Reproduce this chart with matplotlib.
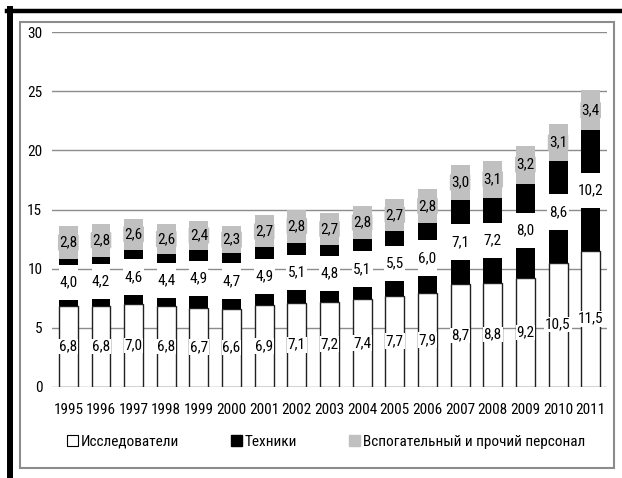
import matplotlib
matplotlib.use("Agg")
import matplotlib.pyplot as plt
from matplotlib.patches import Rectangle, Patch
from matplotlib.lines import Line2D

plt.rcParams['font.family'] = ['Roboto Condensed', 'Fira Sans Condensed', 'DejaVu Sans']
plt.rcParams['font.size'] = 11

years = ['1995', '1996', '1997', '1998', '1999', '2000', '2001', '2002', '2003',
         '2004', '2005', '2006', '2007', '2008', '2009', '2010', '2011']
researchers = [6.8, 6.8, 7.0, 6.8, 6.7, 6.6, 6.9, 7.1, 7.2, 7.4, 7.7, 7.9, 8.7, 8.8, 9.2, 10.5, 11.5]
technicians = [4.0, 4.2, 4.6, 4.4, 4.9, 4.7, 4.9, 5.1, 4.8, 5.1, 5.5, 6.0, 7.1, 7.2, 8.0, 8.6, 10.2]
support = [2.8, 2.8, 2.6, 2.6, 2.4, 2.3, 2.7, 2.8, 2.7, 2.8, 2.7, 2.8, 3.0, 3.1, 3.2, 3.1, 3.4]
names = ['Исследователи', 'Техники', 'Вспогательный и прочий персонал']

grey = '#c0c0c0'
w = 0.58

def fmt(v):
    return f"{v:.1f}".replace('.', ',')

fig = plt.figure(figsize=(6.22, 4.78), dpi=100)
ax = fig.add_axes([0.0836, 0.191, 0.8923, 0.7414])

x = list(range(len(years)))
bottom2 = [a + b for a, b in zip(researchers, technicians)]

ax.bar(x, researchers, w, color='white', edgecolor='#202020', linewidth=1.0, zorder=2)
ax.bar(x, technicians, w, bottom=researchers, color='black', linewidth=0, zorder=2)
ax.bar(x, support, w, bottom=bottom2, color=grey, linewidth=0, zorder=2)

# white label field over the middle of the black segments
mid = [a + b / 2 for a, b in zip(researchers, technicians)]
ax.bar(x, [3.0] * len(x), w, bottom=[m - 1.5 for m in mid], color='white', linewidth=0, zorder=3)

for i in x:
    ax.text(i, researchers[i] / 2, fmt(researchers[i]), ha='center', va='center', zorder=4,
            bbox=dict(boxstyle='square,pad=0.05', fc='white', ec='none'))
    ax.text(i, mid[i], fmt(technicians[i]), ha='center', va='center', zorder=4,
            bbox=dict(boxstyle='square,pad=0.1', fc='white', ec='none'))
    ax.text(i, bottom2[i] + support[i] / 2, fmt(support[i]), ha='center', va='center', zorder=4,
            bbox=dict(boxstyle='round,pad=0.08', fc=grey, ec='none'))

ax.set_xlim(-0.5, 16.5)
ax.set_ylim(0, 30)
ax.set_yticks([0, 5, 10, 15, 20, 25, 30])
ax.set_xticks(x)
ax.set_xticklabels(years)
ax.tick_params(axis='both', length=0)
ax.tick_params(axis='x', pad=12)
ax.tick_params(axis='y', pad=7)
ax.grid(axis='y', color='#8c8c8c', linewidth=1.0)
ax.set_axisbelow(True)
for s in ax.spines.values():
    s.set_visible(False)

handles = [Patch(fc='white', ec='black', lw=0.8), Patch(fc='black', ec='black'), Patch(fc=grey, ec=grey)]
fig.legend(handles, names, loc='center', bbox_to_anchor=(0.524, 0.076), ncol=3, frameon=False,
           handlelength=0.7, handleheight=0.7, handletextpad=0.2, columnspacing=3.4)

# outer frame
fig.add_artist(Rectangle((20 / 622, 10 / 478), 594 / 622, 446 / 478, fill=False,
                         ec='#8c8c8c', lw=1.5, transform=fig.transFigure))
fig.add_artist(Line2D([7 / 622, 620 / 622], [467 / 478, 467 / 478], color='black', lw=3.2,
                      transform=fig.transFigure))
fig.add_artist(Line2D([10 / 622, 10 / 622], [0, 469 / 478], color='black', lw=4.3,
                      transform=fig.transFigure))

fig.savefig('out.png', dpi=100)
